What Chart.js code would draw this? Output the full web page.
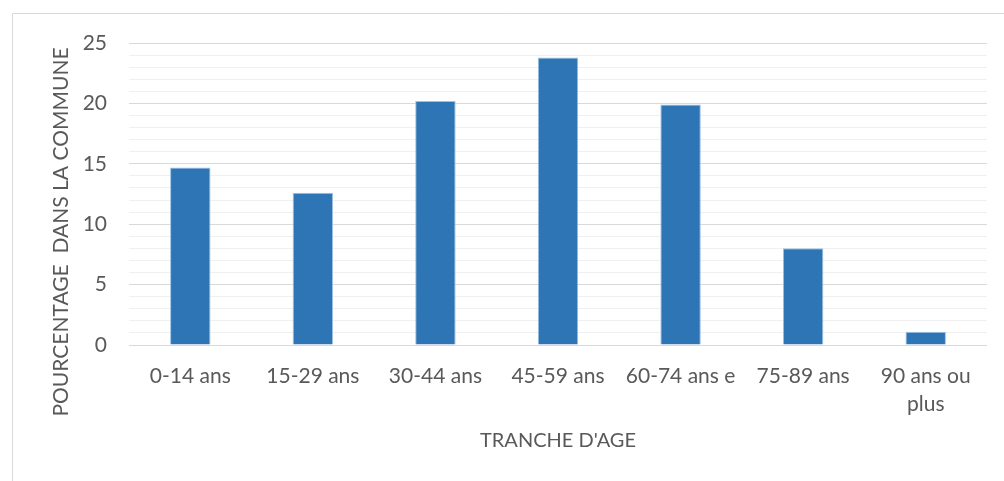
<!DOCTYPE html>
<html>
<head>
<meta charset="utf-8">
<script src="https://cdn.jsdelivr.net/npm/chart.js@4.4.0/dist/chart.umd.min.js"></script>
<style>
  html, body { margin: 0; padding: 0; background: #ffffff; }
  #wrap { position: relative; width: 1004px; height: 481px; }
  canvas { display: block; }
</style>
</head>
<body>
<div id="wrap"><canvas id="c" width="1004" height="481"></canvas></div>
<script>
const categories = ['0-14 ans', '15-29 ans', '30-44 ans', '45-59 ans', '60-74 ans e', '75-89 ans', ['90 ans ou', 'plus']];
const values = [14.7, 12.6, 20.2, 23.8, 19.9, 8.0, 1.1];
const yTitle = 'POURCENTAGE  DANS LA COMMUNE';
const xTitle = "TRANCHE D'AGE";
const yMax = 25;
const yMajorStep = 5;

const FONT = 'Lato, "Open Sans", sans-serif';
const TEXT = '#595959';

const framePlugin = {
  id: 'frame',
  beforeDraw(chart) {
    const ctx = chart.ctx;
    ctx.save();
    ctx.strokeStyle = '#d9d9d9';
    ctx.lineWidth = 1;
    ctx.beginPath();
    ctx.moveTo(12.5, 481);
    ctx.lineTo(12.5, 13.5);
    ctx.lineTo(1004, 13.5);
    ctx.stroke();
    ctx.restore();
  },
  afterDraw(chart) {
    // vertical axis title, placed as in the reference (centred at x 61, y 232)
    const ctx = chart.ctx;
    ctx.save();
    ctx.translate(61, 232);
    ctx.rotate(-Math.PI / 2);
    ctx.fillStyle = TEXT;
    ctx.font = '21px ' + FONT;
    ctx.textAlign = 'center';
    ctx.textBaseline = 'middle';
    ctx.fillText(yTitle, 0, 0);
    ctx.restore();
  }
};

new Chart(document.getElementById('c'), {
  type: 'bar',
  data: {
    labels: categories,
    datasets: [{
      data: values,
      backgroundColor: '#2E75B6',
      borderColor: '#9FC0E3',
      borderWidth: 1,
      barPercentage: 0.66,
      categoryPercentage: 0.5
    }]
  },
  options: {
    responsive: false,
    animation: false,
    layout: { padding: { left: 0, top: 43, right: 17, bottom: 0 } },
    plugins: { legend: { display: false }, tooltip: { enabled: false } },
    scales: {
      x: {
        grid: { display: false, drawTicks: false },
        border: { display: false },
        ticks: { color: TEXT, font: { family: FONT, size: 21, lineHeight: 1.33 }, padding: 17, maxRotation: 0, autoSkip: false },
        title: { display: true, text: xTitle, color: TEXT, font: { family: FONT, size: 20 }, padding: { top: 0, bottom: 28 } },
        afterFit(s) { s.height = 481 - 345; }
      },
      y: {
        min: 0, max: yMax,
        grid: {
          drawTicks: false,
          lineWidth: 1,
          color: (ctx) => (ctx.tick && ctx.tick.value % yMajorStep === 0) ? '#d9d9d9' : '#f0f0f0'
        },
        border: { display: false },
        ticks: {
          stepSize: 1,
          autoSkip: false,
          color: TEXT,
          font: { family: FONT, size: 21 },
          padding: 22,
          callback: (v) => (v % yMajorStep === 0 ? String(v) : '')
        },
        title: { display: false },
        afterFit(s) { s.width = 129; }
      }
    }
  },
  plugins: [framePlugin]
});
</script>
</body>
</html>
